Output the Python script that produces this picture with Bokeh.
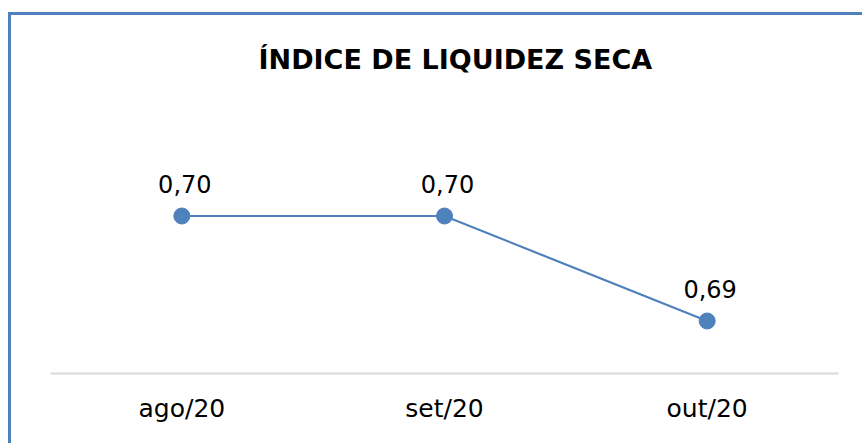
from bokeh.plotting import figure
from bokeh.models import ColumnDataSource, LabelSet, FactorRange, Range1d
from bokeh.core.properties import value
from bokeh.embed import file_html
from bokeh.resources import INLINE

categories = ["ago/20", "set/20", "out/20"]
values = [0.70, 0.70, 0.69]
labels = [f"{v:.2f}".replace(".", ",") for v in values]
title_text = "ÍNDICE DE LIQUIDEZ SECA"

BLUE = "#4F81BD"

src = ColumnDataSource(dict(x=categories, y=values, lab=labels))

p = figure(width=854, height=431, output_backend="svg", toolbar_location=None,
           x_range=FactorRange(*categories, range_padding=0),
           y_range=Range1d(0.685, 0.713),
           min_border_left=39, min_border_right=27, min_border_bottom=73, min_border_top=64)
p.styles = {"border-left": f"3px solid {BLUE}", "border-top": f"3px solid {BLUE}",
            "position": "relative", "left": "8px", "top": "12px"}

p.title.text = title_text
p.title.text_font = "DejaVu Sans"
p.title.text_font_style = "bold"
p.title.text_font_size = "27px"
p.title.text_color = "#000000"
p.title.align = "left"
p.title.offset = 208
p.title.standoff = 10

p.line("x", "y", source=src, line_color=BLUE, line_width=2.2)
p.scatter("x", "y", source=src, size=16, fill_color=BLUE, line_color=BLUE)

p.add_layout(LabelSet(x="x", y="y", text="lab", source=src, text_align="center",
                      text_baseline="alphabetic", y_offset=23, x_offset=3,
                      text_font=value("DejaVu Sans"), text_font_size=value("24px"),
                      text_color="#000000"))

p.yaxis.visible = False
p.xgrid.visible = False
p.ygrid.visible = False
p.outline_line_color = None
p.xaxis.axis_line_color = "#D9D9D9"
p.xaxis.axis_line_width = 2
p.xaxis.major_tick_line_color = None
p.xaxis.minor_tick_line_color = None
p.xaxis.major_label_text_font = "DejaVu Sans"
p.xaxis.major_label_text_font_size = "25px"
p.xaxis.major_label_text_color = "#000000"
p.xaxis.major_label_standoff = 14

open("out.html", "w").write(file_html(p, INLINE))
